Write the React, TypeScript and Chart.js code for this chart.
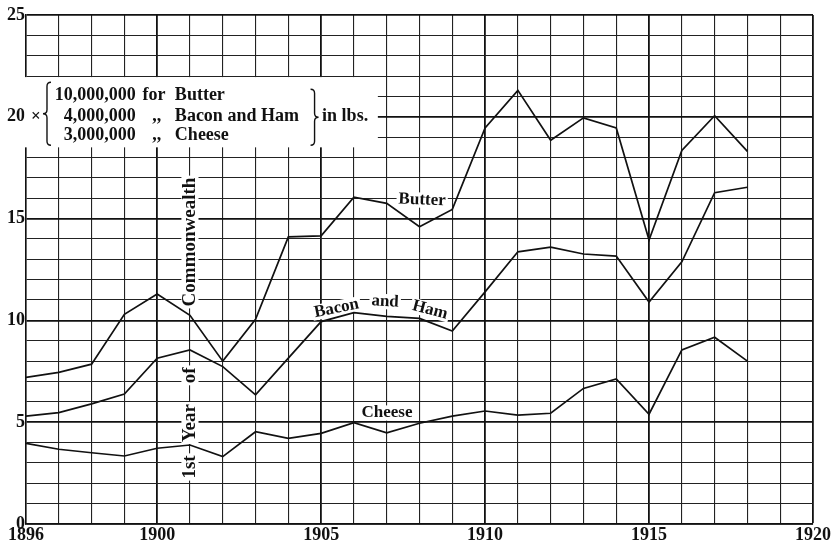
import React, { useEffect, useRef } from "react";
import { Chart, registerables } from "chart.js";

Chart.register(...registerables);

const years = [1896, 1897, 1898, 1899, 1900, 1901, 1902, 1903, 1904, 1905, 1906, 1907, 1908, 1909, 1910, 1911, 1912, 1913, 1914, 1915, 1916, 1917, 1918];
const butter = [7.2, 7.45, 7.85, 10.3, 11.3, 10.25, 8.0, 10.05, 14.1, 14.15, 16.05, 15.75, 14.6, 15.45, 19.45, 21.3, 18.85, 19.95, 19.45, 13.95, 18.35, 20.05, 18.3];
const baconAndHam = [5.3, 5.47, 5.9, 6.38, 8.14, 8.55, 7.73, 6.34, 8.15, 9.94, 10.38, 10.2, 10.1, 9.48, 11.4, 13.37, 13.6, 13.26, 13.16, 10.9, 12.88, 16.27, 16.54];
const cheese = [3.96, 3.67, 3.5, 3.34, 3.72, 3.88, 3.31, 4.53, 4.21, 4.45, 4.98, 4.48, 4.95, 5.3, 5.55, 5.35, 5.44, 6.66, 7.12, 5.39, 8.55, 9.17, 8.0];
const xTickLabels = [1896, 1900, 1905, 1910, 1915, 1920];
const yTickLabels = [0, 5, 10, 15, 20, 25];
const legendNumbers = ["10,000,000", "4,000,000", "3,000,000"];
const legendJoiners = ["for", ",,", ",,"];
const legendNames = ["Butter", "Bacon and Ham", "Cheese"];
const verticalWords = ["1st", "Year", "of", "Commonwealth"];

const FONT = '"Liberation Serif", "Times New Roman", serif';

export default function App() {
  const ref = useRef<HTMLCanvasElement>(null);

  useEffect(() => {
    const canvas = ref.current;
    if (!canvas) return;
    const toPts = (arr: number[]) => arr.map((y, i) => ({ x: years[i], y }));

    const annot = {
      id: "annot",
      beforeDatasetsDraw(chart: any) {
        const ctx = chart.ctx as CanvasRenderingContext2D;
        const xs = chart.scales.x;
        const ys = chart.scales.y;
        const X = (v: number) => xs.getPixelForValue(v);
        const Y = (v: number) => ys.getPixelForValue(v);
        ctx.save();

        // legend box
        ctx.fillStyle = "#fff";
        const bx0 = X(1896) - 1.5;
        const bx1 = X(1906.73);
        const by0 = Y(21.95);
        const by1 = Y(18.5);
        ctx.fillRect(bx0, by0, bx1 - bx0, by1 - by0);

        ctx.fillStyle = "#111";
        ctx.strokeStyle = "#111";
        ctx.font = `bold 18px ${FONT}`;
        ctx.textBaseline = "alphabetic";
        const rows = [20.83, 19.81, 18.86];
        rows.forEach((r, i) => {
          ctx.textAlign = "right";
          ctx.fillText(legendNumbers[i], X(1899.35), Y(r));
          ctx.textAlign = "left";
          ctx.fillText(legendJoiners[i], X(i === 0 ? 1899.55 : 1899.85), Y(r));
          ctx.fillText(legendNames[i], X(1900.54), Y(r));
        });
        ctx.fillText("in lbs.", X(1905.03), Y(19.81));
        ctx.textAlign = "center";
        ctx.textBaseline = "middle";
        ctx.font = `bold 17px ${FONT}`;
        ctx.fillText("\u00d7", X(1896.3), Y(20.0));

        const brace = (x: number, y1: number, y2: number, w: number, s: number) => {
          const ym = (y1 + y2) / 2;
          ctx.beginPath();
          ctx.moveTo(x - s * w, y1);
          ctx.quadraticCurveTo(x, y1, x, y1 + w);
          ctx.lineTo(x, ym - w);
          ctx.quadraticCurveTo(x, ym, x + s * w, ym);
          ctx.quadraticCurveTo(x, ym, x, ym + w);
          ctx.lineTo(x, y2 - w);
          ctx.quadraticCurveTo(x, y2, x - s * w, y2);
          ctx.lineWidth = 1.4;
          ctx.stroke();
        };
        brace(X(1896.64), Y(21.7), Y(18.6), 4, -1);
        brace(X(1904.8), Y(21.35), Y(18.6), 4, 1);

        // labels with white background
        const label = (text: string, cx: number, cy: number, angle: number, size: number) => {
          ctx.save();
          ctx.translate(cx, cy);
          ctx.rotate(angle);
          ctx.font = `bold ${size}px ${FONT}`;
          const w = ctx.measureText(text).width;
          ctx.fillStyle = "#fff";
          ctx.fillRect(-w / 2 - 2, -size * 0.45, w + 4, size * 0.9);
          ctx.fillStyle = "#111";
          ctx.textAlign = "center";
          ctx.textBaseline = "middle";
          ctx.fillText(text, 0, 0);
          ctx.restore();
        };
        label("Butter", X(1908.08), Y(15.91), 0.04, 17);
        label("Cheese", X(1907.01), Y(5.45), 0, 17);
        label("Bacon", X(1905.47), Y(10.59), -0.2, 17);
        label("and", X(1906.95), Y(10.92), 0.05, 17);
        label("Ham", X(1908.32), Y(10.51), 0.26, 17);

        const vPos = [2.8, 4.96, 7.3, 13.85];
        verticalWords.forEach((w, i) => label(w, X(1901), Y(vPos[i]), -Math.PI / 2, 19));

        ctx.restore();
      },
    };

    const major = (v: number) => v % 5 === 0;
    const gridCfg = {
      drawTicks: false,
      color: (c: any) => (major(c.tick.value) ? "#111" : "#222"),
      lineWidth: (c: any) => (major(c.tick.value) ? 1.8 : 1.1),
      borderDash: (c: any) => (major(c.tick.value) ? [] : [14, 2]),
    };
    const tickFont = { family: FONT, size: 18, weight: "bold" as const };

    const chart = new Chart(canvas, {
      type: "line",
      data: {
        datasets: [
          { label: "Butter", data: toPts(butter) },
          { label: "Bacon and Ham", data: toPts(baconAndHam) },
          { label: "Cheese", data: toPts(cheese) },
        ].map((d) => ({
          ...d,
          borderColor: "#111",
          borderWidth: 1.7,
          pointRadius: 0,
          tension: 0,
          fill: false,
        })),
      },
      options: {
        animation: false,
        responsive: false,
        devicePixelRatio: 1,
        layout: { padding: { top: 15, right: 23, left: 0, bottom: 0 } },
        plugins: { legend: { display: false }, tooltip: { enabled: false } },
        scales: {
          x: {
            type: "linear",
            min: 1896,
            max: 1920,
            afterFit: (s: any) => {
              s.height = 21;
            },
            ticks: {
              stepSize: 1,
              autoSkip: false,
              maxRotation: 0,
              padding: 1,
              color: "#111",
              font: tickFont,
              callback: (v: any) => (xTickLabels.includes(Number(v)) ? String(v) : ""),
            },
            grid: gridCfg as any,
            border: { display: true, color: "#111", width: 1.6 },
          },
          y: {
            type: "linear",
            min: 0,
            max: 25,
            afterFit: (s: any) => {
              s.width = 26;
            },
            ticks: {
              stepSize: 1,
              autoSkip: false,
              padding: 1,
              color: "#111",
              font: tickFont,
              callback: (v: any) => (yTickLabels.includes(Number(v)) ? String(v) : ""),
            },
            grid: gridCfg as any,
            border: { display: true, color: "#111", width: 1.6 },
          },
        },
      },
      plugins: [annot],
    });
    return () => chart.destroy();
  }, []);

  return (
    <div style={{ position: "fixed", left: 0, top: 0, width: 836, height: 545, background: "#fff" }}>
      <canvas ref={ref} width={836} height={545} style={{ display: "block" }} />
    </div>
  );
}
